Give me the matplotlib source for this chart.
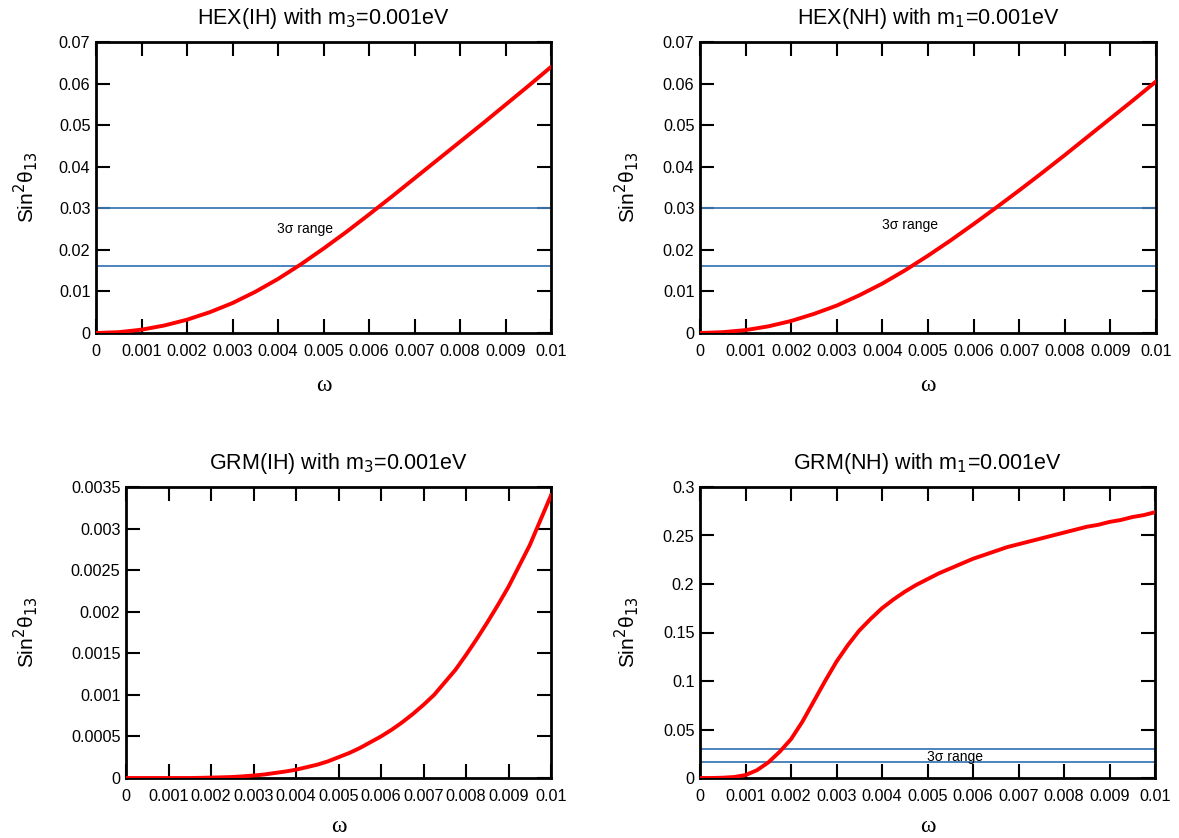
import matplotlib.pyplot as plt
from matplotlib.ticker import FormatStrFormatter, MultipleLocator

plt.rcParams["font.family"] = ["Liberation Sans", "DejaVu Sans"]

# omega grid for the HEX curves
omega_hex = [0, 0.0005, 0.001, 0.0015, 0.002, 0.0025, 0.003, 0.0035, 0.004, 0.0045,
             0.005, 0.0055, 0.006, 0.0065, 0.007, 0.0075, 0.008, 0.0085, 0.009, 0.0095, 0.01]

hex_ih = [0, 0.0002, 0.0008, 0.0018, 0.0032, 0.0050, 0.0072, 0.0099, 0.0130, 0.0165,
          0.0203, 0.0243, 0.0285, 0.0328, 0.0372, 0.0416, 0.0460, 0.0504, 0.0549, 0.0594, 0.0640]
hex_nh = [0, 0.0002, 0.0007, 0.0016, 0.0029, 0.0046, 0.0066, 0.0091, 0.0119, 0.0151,
          0.0186, 0.0223, 0.0262, 0.0302, 0.0343, 0.0385, 0.0428, 0.0472, 0.0516, 0.0560, 0.0605]

# finer omega grid for the GRM curves
omega_grm = [0, 0.00025, 0.0005, 0.00075, 0.001, 0.00125, 0.0015, 0.00175, 0.002, 0.00225,
             0.0025, 0.00275, 0.003, 0.00325, 0.0035, 0.00375, 0.004, 0.00425, 0.0045, 0.00475,
             0.005, 0.00525, 0.0055, 0.00575, 0.006, 0.00625, 0.0065, 0.00675, 0.007, 0.00725,
             0.0075, 0.00775, 0.008, 0.00825, 0.0085, 0.00875, 0.009, 0.00925, 0.0095, 0.00975, 0.01]

grm_ih = [0, 0, 0, 0, 0, 0, 0, 0.000002, 0.000005, 0.000008,
          0.000012, 0.00002, 0.00003, 0.000042, 0.00006, 0.000078, 0.0001, 0.00013, 0.00016, 0.0002,
          0.00025, 0.0003, 0.00036, 0.00043, 0.0005, 0.00058, 0.00067, 0.00077, 0.00088, 0.001,
          0.00115, 0.0013, 0.00148, 0.00167, 0.00187, 0.00208, 0.0023, 0.00255, 0.0028, 0.0031, 0.0034]
grm_nh = [0, 0, 0.0003, 0.001, 0.003, 0.008, 0.016, 0.027, 0.040, 0.058,
          0.079, 0.100, 0.120, 0.137, 0.152, 0.164, 0.175, 0.184, 0.192, 0.199,
          0.205, 0.211, 0.216, 0.221, 0.226, 0.230, 0.234, 0.238, 0.241, 0.244,
          0.247, 0.250, 0.253, 0.256, 0.259, 0.261, 0.264, 0.266, 0.269, 0.271, 0.274]

sigma_lo, sigma_hi = 0.016, 0.030

W, H = 1179, 838

panels = [
    # title, x, y, ymax, ystep, axes rect in pixels (left, bottom, width, height), 3sigma label spot
    ("HEX(IH) with m$_3$=0.001eV", omega_hex, hex_ih, 0.07, 0.01, (96, 505, 455, 291), (0.0046, 0.025)),
    ("HEX(NH) with m$_1$=0.001eV", omega_hex, hex_nh, 0.07, 0.01, (700, 505, 456, 291), (0.0046, 0.026)),
    ("GRM(IH) with m$_3$=0.001eV", omega_grm, grm_ih, 0.0035, 0.0005, (126, 60, 425, 291), None),
    ("GRM(NH) with m$_1$=0.001eV", omega_grm, grm_nh, 0.3, 0.05, (700, 60, 455, 291), (0.0056, 0.0215)),
]

fig = plt.figure(figsize=(W / 100, H / 100), dpi=100)

for title, xs, ys, ymax, ystep, (l, b, w, h), lab in panels:
    ax = fig.add_axes([l / W, b / H, w / W, h / H])
    if lab is not None:
        ax.axhline(sigma_hi, color="#3d7ab8", lw=1.3)
        ax.axhline(sigma_lo, color="#3d7ab8", lw=1.3)
        ax.text(lab[0], lab[1], "3\u03c3 range", fontsize=10, ha="center", va="center")
    ax.plot(xs, ys, color="red", lw=2.8, zorder=3)
    ax.set_xlim(0, 0.01)
    ax.set_ylim(0, ymax)
    ax.xaxis.set_major_locator(MultipleLocator(0.001))
    ax.yaxis.set_major_locator(MultipleLocator(ystep))
    ax.xaxis.set_major_formatter(FormatStrFormatter("%g"))
    ax.yaxis.set_major_formatter(FormatStrFormatter("%g"))
    ax.tick_params(direction="in", length=10, width=1.5, top=True, right=True,
                   labelsize=11.7)
    ax.tick_params(axis="x", pad=8)
    ax.tick_params(axis="y", pad=4)
    for s in ax.spines.values():
        s.set_linewidth(2)
    ax.set_title(title, fontsize=15.5, pad=13)
    ax.set_ylabel("Sin$^2$\u03b8$_{13}$", fontsize=15, va="center")
    ax.set_xlabel("\u03c9", fontsize=17, family="Liberation Serif", va="center")
    ax.yaxis.set_label_coords(((26 if l < 300 else 627) - l) / w, 0.5)
    ax.xaxis.set_label_coords(0.5, -0.18 if b > 300 else -0.168)

fig.savefig("out.png", dpi=100)
